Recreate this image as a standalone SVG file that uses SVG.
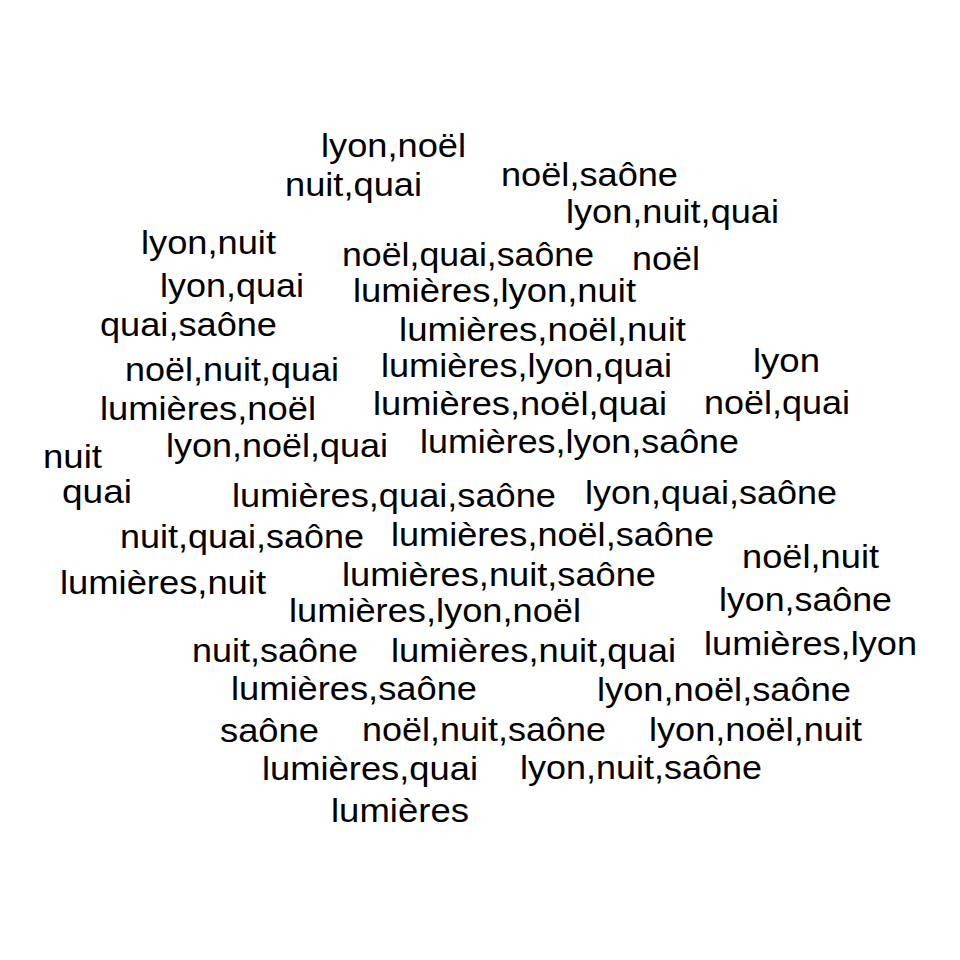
<svg xmlns="http://www.w3.org/2000/svg" width="960" height="960" viewBox="0 0 960 960">
<style>
text{font-family:"Liberation Sans",Arial,sans-serif;font-size:33px;fill:#000}
</style>
<rect width="960" height="960" fill="#fff"/>
<g id="w1"><text x="321" y="157" textLength="145" lengthAdjust="spacingAndGlyphs">lyon,noël</text></g>
<g id="w2"><text x="285" y="196" textLength="137" lengthAdjust="spacingAndGlyphs">nuit,quai</text></g>
<g id="w3"><text x="501" y="186" textLength="177" lengthAdjust="spacingAndGlyphs">noël,saône</text></g>
<g id="w4"><text x="566" y="223" textLength="213" lengthAdjust="spacingAndGlyphs">lyon,nuit,quai</text></g>
<g id="w5"><text x="141" y="254" textLength="135" lengthAdjust="spacingAndGlyphs">lyon,nuit</text></g>
<g id="w6"><text x="342" y="266" textLength="252" lengthAdjust="spacingAndGlyphs">noël,quai,saône</text></g>
<g id="w7"><text x="632" y="270" textLength="68" lengthAdjust="spacingAndGlyphs">noël</text></g>
<g id="w8"><text x="160" y="297" textLength="144" lengthAdjust="spacingAndGlyphs">lyon,quai</text></g>
<g id="w9"><text x="353" y="302" textLength="283" lengthAdjust="spacingAndGlyphs">lumières,lyon,nuit</text></g>
<g id="w10"><text x="100" y="336" textLength="177" lengthAdjust="spacingAndGlyphs">quai,saône</text></g>
<g id="w11"><text x="399" y="341" textLength="287" lengthAdjust="spacingAndGlyphs">lumières,noël,nuit</text></g>
<g id="w12"><text x="125" y="381" textLength="214" lengthAdjust="spacingAndGlyphs">noël,nuit,quai</text></g>
<g id="w13"><text x="381" y="377" textLength="291" lengthAdjust="spacingAndGlyphs">lumières,lyon,quai</text></g>
<g id="w14"><text x="753" y="372" textLength="67" lengthAdjust="spacingAndGlyphs">lyon</text></g>
<g id="w15"><text x="100" y="420" textLength="216" lengthAdjust="spacingAndGlyphs">lumières,noël</text></g>
<g id="w16"><text x="373" y="415" textLength="294" lengthAdjust="spacingAndGlyphs">lumières,noël,quai</text></g>
<g id="w17"><text x="704" y="414" textLength="146" lengthAdjust="spacingAndGlyphs">noël,quai</text></g>
<g id="w18"><text x="43" y="468" textLength="59" lengthAdjust="spacingAndGlyphs">nuit</text></g>
<g id="w19"><text x="166" y="457" textLength="222" lengthAdjust="spacingAndGlyphs">lyon,noël,quai</text></g>
<g id="w20"><text x="420" y="453" textLength="319" lengthAdjust="spacingAndGlyphs">lumières,lyon,saône</text></g>
<g id="w21"><text x="62" y="503" textLength="70" lengthAdjust="spacingAndGlyphs">quai</text></g>
<g id="w22"><text x="232" y="507" textLength="324" lengthAdjust="spacingAndGlyphs">lumières,quai,saône</text></g>
<g id="w23"><text x="585" y="504" textLength="252" lengthAdjust="spacingAndGlyphs">lyon,quai,saône</text></g>
<g id="w24"><text x="120" y="548" textLength="244" lengthAdjust="spacingAndGlyphs">nuit,quai,saône</text></g>
<g id="w25"><text x="391" y="546" textLength="323" lengthAdjust="spacingAndGlyphs">lumières,noël,saône</text></g>
<g id="w26"><text x="742" y="568" textLength="137" lengthAdjust="spacingAndGlyphs">noël,nuit</text></g>
<g id="w27"><text x="60" y="594" textLength="206" lengthAdjust="spacingAndGlyphs">lumières,nuit</text></g>
<g id="w28"><text x="342" y="586" textLength="314" lengthAdjust="spacingAndGlyphs">lumières,nuit,saône</text></g>
<g id="w29"><text x="289" y="622" textLength="292" lengthAdjust="spacingAndGlyphs">lumières,lyon,noël</text></g>
<g id="w30"><text x="719" y="611" textLength="173" lengthAdjust="spacingAndGlyphs">lyon,saône</text></g>
<g id="w31"><text x="192" y="662" textLength="166" lengthAdjust="spacingAndGlyphs">nuit,saône</text></g>
<g id="w32"><text x="391" y="662" textLength="285" lengthAdjust="spacingAndGlyphs">lumières,nuit,quai</text></g>
<g id="w33"><text x="704" y="655" textLength="213" lengthAdjust="spacingAndGlyphs">lumières,lyon</text></g>
<g id="w34"><text x="231" y="700" textLength="246" lengthAdjust="spacingAndGlyphs">lumières,saône</text></g>
<g id="w35"><text x="597" y="701" textLength="254" lengthAdjust="spacingAndGlyphs">lyon,noël,saône</text></g>
<g id="w36"><text x="220" y="742" textLength="99" lengthAdjust="spacingAndGlyphs">saône</text></g>
<g id="w37"><text x="362" y="741" textLength="244" lengthAdjust="spacingAndGlyphs">noël,nuit,saône</text></g>
<g id="w38"><text x="649" y="741" textLength="213" lengthAdjust="spacingAndGlyphs">lyon,noël,nuit</text></g>
<g id="w39"><text x="262" y="780" textLength="216" lengthAdjust="spacingAndGlyphs">lumières,quai</text></g>
<g id="w40"><text x="520" y="779" textLength="242" lengthAdjust="spacingAndGlyphs">lyon,nuit,saône</text></g>
<g id="w41"><text x="331" y="822" textLength="138" lengthAdjust="spacingAndGlyphs">lumières</text></g>
</svg>
